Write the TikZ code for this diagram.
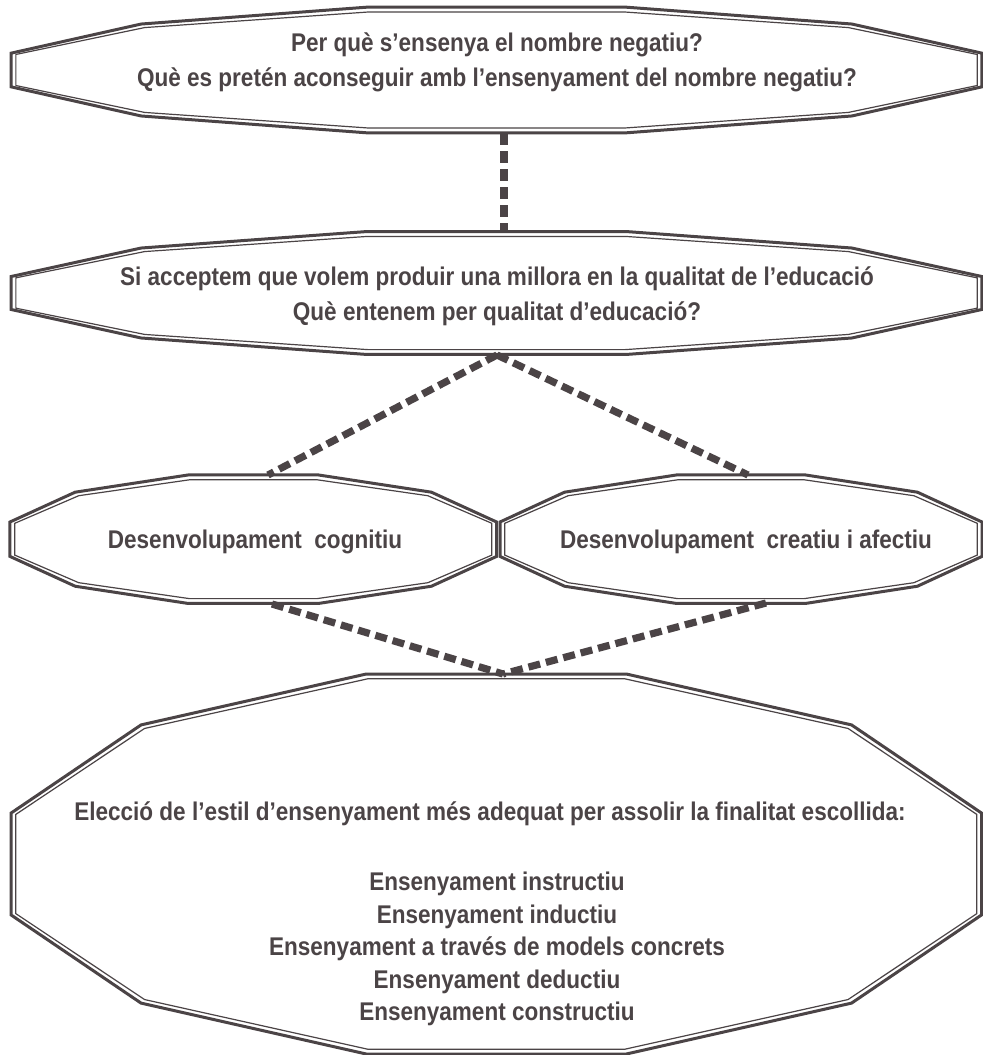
\documentclass[tikz,border=0pt]{standalone}
\usepackage{fontspec}
\setmainfont{Liberation Sans}[FakeStretch=0.88]
\definecolor{ink}{RGB}{75,68,70}
\tikzset{
  outerline/.style={draw=ink, line width=1.5pt, line join=miter},
  innerline/.style={draw=ink, line width=0.6pt, line join=miter},
  conn/.style={draw=ink, line width=3.6pt, dash pattern=on 6pt off 3pt},
  label/.style={text=ink, font=\fontsize{12.8}{17.5}\selectfont\bfseries, align=center, inner sep=0pt},
}
% flattened twelve-sided frame: centre (#1,#2), radii #3 and #4, drawn as a thick outline with a thin inner rule
\newcommand\dodecaframe[4]{%
  \foreach \st/\da in {outerline/0, innerline/5}{%
    \pgfmathsetmacro\rxa{#3-\da}\pgfmathsetmacro\rya{#4-\da}%
    \draw[\st, shift={(#1,#2)}] ({\rxa*cos(15)},{\rya*sin(15)})
      \foreach \t in {45,75,...,345}{ -- ({\rxa*cos(\t)},{\rya*sin(\t)}) } -- cycle;
  }%
}
\begin{document}
\begin{tikzpicture}[x=0.5pt, y=-0.5pt]
\useasboundingbox (0,0) rectangle (983,1055);
\fill[white] (0,0) rectangle (983,1055);

% frames
\dodecaframe{496.5}{70}{502.6}{65}
\dodecaframe{496.5}{293}{502.6}{63.6}
\dodecaframe{253.3}{539.2}{251.9}{66.5}
\dodecaframe{741}{539.2}{249.5}{66.5}
\dodecaframe{496.3}{864}{502.4}{196.7}

% texts
\node[label] (why) at (497,62) {Per què s’ensenya el nombre negatiu?\\Què es pretén aconseguir amb l’ensenyament del nombre negatiu?};
\node[label] (quality) at (497,296) {Si acceptem que volem produir una millora en la qualitat de l’educació\\Què entenem per qualitat d’educació?};
\node[label] (cog) at (255,542) {Desenvolupament\ \ cognitiu};
\node[label] (crea) at (746,542) {Desenvolupament\ \ creatiu i afectiu};
\node[label] (style) at (490,814) {Elecció de l’estil d’ensenyament més adequat per assolir la finalitat escollida:};
\node[label, font=\fontsize{12.8}{16.2}\selectfont\bfseries, anchor=north] (list) at (497,872)
  {Ensenyament instructiu\\Ensenyament inductiu\\Ensenyament a través de models concrets\\Ensenyament deductiu\\Ensenyament constructiu};

% connector ends on the frame outlines
\coordinate (whyS) at (504,133);
\coordinate (qualN) at (504,232);
\coordinate (qualS) at (497,355);
\coordinate (cogN) at (268,475);
\coordinate (creaN) at (748,475);
\coordinate (cogS) at (272,604);
\coordinate (creaS) at (766,603);
\coordinate (styleN) at (503,674);

% connectors
\draw[conn] (whyS) -- (qualN);
\draw[conn] (qualS) -- (cogN);
\draw[conn] (qualS) -- (creaN);
\draw[conn] (cogS) -- (styleN);
\draw[conn] (creaS) -- (styleN);
\end{tikzpicture}
\end{document}
